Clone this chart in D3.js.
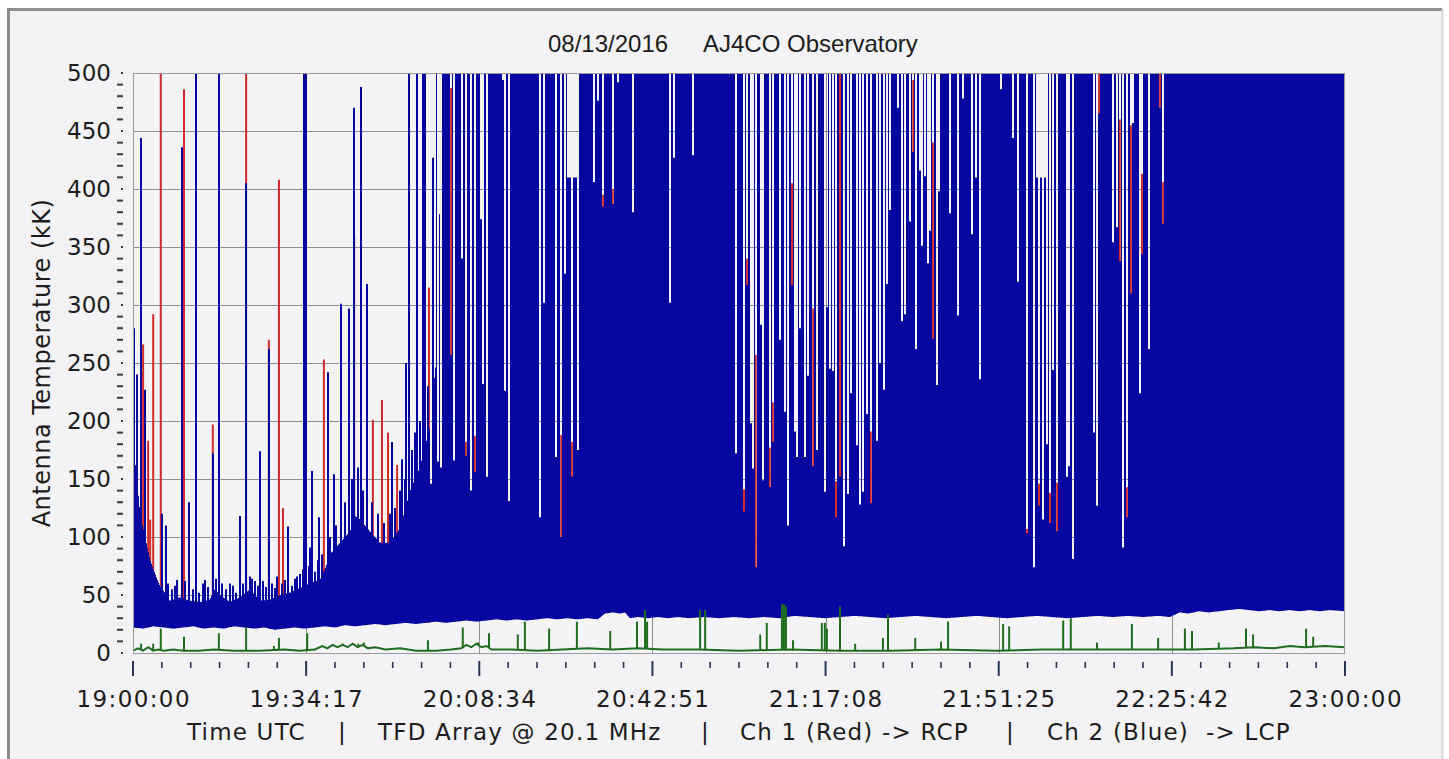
<!DOCTYPE html>
<html><head><meta charset="utf-8">
<script src="https://cdn.jsdelivr.net/npm/d3@7"></script>
<style>body{margin:0;background:#fff}svg{display:block}</style>
</head><body>
<script>
// ---------- DATA (time in minutes after 19:00:00 UTC, values in kK) ----------
const titleDate = "08/13/2016";
const titleSite = "AJ4CO Observatory";
const yAxisTitle = "Antenna Temperature (kK)";
const footerParts = ["Time UTC", "|", "TFD Array @ 20.1 MHz", "|", "Ch 1 (Red) -> RCP", "|", "Ch 2 (Blue)  -> LCP"];
const xTickLabels = ["19:00:00", "19:34:17", "20:08:34", "20:42:51", "21:17:08", "21:51:25", "22:25:42", "23:00:00"];
const yTicks = [0, 50, 100, 150, 200, 250, 300, 350, 400, 450, 500];

// Ch 2 (blue) lower envelope
const blueLowerEnvelope = [[0,22],[2,21],[4,23],[6,22],[8,21],[10,22],[12,23],[14,21],[16,22],[18,21],[20,23],[22,22],[24,21],[26,22],[28,20],[30,21],[32,22],[34,21],[36,22],[38,23],[40,22],[42,24],[44,23],[46,24],[48,25],[50,24],[52,25],[54,26],[56,25],[58,26],[60,27],[62,26],[64,27],[66,28],[68,27],[70,28],[72,29],[74,28],[76,29],[78,28],[80,29],[82,30],[84,29],[86,30],[88,29],[90,30],[92,29],[93.5,34],[95,35],[96.5,34],[97.4,35],[98.4,30],[100,31],[102,30],[104,31],[106,30],[108,31],[110,30],[113,31],[116,30],[119,31],[122,30],[125,31],[128,30],[131,32],[134,31],[137,30],[140,31],[143,32],[146,31],[149,30],[152,31],[155,32],[158,31],[161,30],[164,31],[167,32],[170,31],[173,30],[176,31],[179,32],[182,31],[185,30],[188,31],[191,32],[194,31],[197,32],[200,31],[203,32],[205.3,31],[207.3,35],[209,34],[211,36],[213,35],[215,36],[217,37],[219,38],[221,37],[223,36],[225,37],[227,36],[229,37],[231,36],[233,37],[235,36],[237,37],[240,36]];
// Ch 2 (blue) upper envelope (dense noise top, spikes/dips excluded)
const blueUpperEnvelope = [[0,170],[0.6,160],[1.4,120],[2.4,100],[3.4,80],[4.4,68],[5.3,58],[6.3,52],[7.3,45],[9.3,48],[11.3,45],[13.3,44],[15.2,46],[16.2,55],[17.2,50],[19.2,44],[21.2,48],[23.2,55],[25.1,45],[27.1,46],[29.1,50],[31.1,52],[33.1,56],[35.0,60],[37.0,63],[38.0,72],[39.0,85],[41.0,95],[43.0,105],[44.0,118],[45.0,115],[46.9,105],[48.9,95],[50.9,95],[52.9,108],[54.9,140],[56.8,160],[58.8,195],[60.2,260],[61.2,500],[240,500]];
// Ch 2 (blue) isolated spikes [time, peak]
const blueSpikes = [[0.2,280],[0.8,240],[1.6,444],[2.4,227],[5.7,120],[6.5,110],[6.9,60],[7.7,55],[8.3,58],[8.7,63],[9.7,436],[10.3,62],[11.1,130],[11.9,55],[12.5,500],[13.1,52],[13.9,60],[14.3,63],[14.9,57],[15.8,172],[16.4,64],[17.0,500],[17.6,60],[18.4,55],[19.2,60],[19.8,58],[20.4,52],[21.2,118],[21.8,60],[22.4,405],[23.2,66],[23.6,64],[24.2,62],[24.8,58],[25.1,174],[25.7,62],[26.3,57],[26.9,262],[27.5,60],[28.1,56],[28.5,66],[29.5,60],[30.1,63],[30.7,109],[31.5,58],[32.1,64],[32.5,66],[33.1,68],[33.7,72],[33.9,500],[34.3,500],[34.9,75],[35.0,91],[35.4,157],[36.0,70],[36.6,80],[36.8,117],[37.4,85],[38.6,242],[39.0,100],[39.8,154],[40.2,110],[41.2,301],[42.0,130],[42.8,297],[43.4,150],[43.8,470],[44.6,160],[45.1,488],[45.5,140],[46.3,318],[47.3,130],[48.5,120],[49.7,112],[50.9,120],[51.3,182],[51.9,125],[52.9,140],[53.3,167],[53.9,150],[54.1,250],[54.7,500],[55.3,175],[55.8,190],[56.2,500],[56.8,200],[57.4,500],[57.8,500],[58.4,230],[59.0,260],[59.4,427],[60.2,500]];
// Ch 2 (blue) drop-outs [time, blue top, ch 1 red top (or null)]
const blueDips = [[59.0,146,null],[60.4,165,null],[61.0,160,null],[63.0,257,487],[63.6,166,null],[65.1,340,null],[65.9,170,182],[66.9,140,null],[67.7,156,187],[68.9,374,null],[69.3,232,null],[70.1,152,null],[73.3,494,null],[73.7,226,null],[74.5,131,null],[80.6,117,null],[81.4,302,null],[83.8,169,null],[84.8,100,188],[85.5,327,null],[86.1,410,null],[86.5,410,null],[86.9,152,182],[87.3,410,null],[87.7,410,null],[88.1,175,null],[91.3,406,null],[92.1,476,null],[93.1,385,395],[95.0,387,400],[96.0,492,null],[99.0,380,null],[106.3,302,null],[107.1,427,null],[110.9,429,null],[119.4,172,null],[121.0,122,141],[121.6,317,340],[122.4,198,null],[122.8,159,null],[123.3,74,257],[124.4,283,null],[124.8,149,null],[126.1,143,177],[126.7,182,216],[128.1,270,null],[129.1,208,null],[129.7,110,null],[130.5,317,405],[131.1,191,null],[131.5,169,null],[132.1,280,null],[133.1,169,null],[133.7,239,null],[134.7,161,297],[135.4,175,null],[137.0,139,null],[137.4,298,null],[138.0,245,null],[138.6,243,null],[139.2,117,148],[140.0,152,500],[140.8,92,null],[141.6,137,null],[142.2,224,null],[143.4,179,null],[144.0,128,null],[144.6,139,null],[145.3,206,null],[146.1,129,191],[147.3,183,null],[147.9,250,null],[148.7,227,null],[149.3,318,null],[149.9,382,null],[151.5,470,null],[152.3,286,null],[152.9,292,null],[153.9,372,null],[154.5,432,494],[155.0,262,null],[155.8,416,null],[156.2,351,null],[156.8,411,null],[157.4,336,null],[157.8,364,null],[158.4,271,440],[159.2,231,null],[159.6,398,null],[161.8,379,null],[163.4,291,null],[164.4,478,null],[166.1,361,null],[166.9,410,null],[167.7,236,null],[171.9,486,null],[174.3,444,null],[175.2,320,null],[177.0,103,107],[178.4,74,null],[179.0,410,null],[179.4,127,146],[179.8,410,null],[180.2,115,null],[180.6,410,null],[181.0,180,null],[181.6,112,138],[182.2,244,null],[183.0,105,147],[185.0,152,null],[185.3,161,null],[186.1,81,null],[190.3,190,null],[190.9,127,null],[191.3,465,500],[194.1,354,null],[194.9,367,null],[195.4,338,460],[196.0,91,null],[196.8,117,143],[197.6,310,455],[198.0,457,null],[199.4,224,null],[199.8,344,413],[201.2,262,null],[203.4,470,500],[204.0,370,406]];
// Ch 1 (red) spikes above the blue trace [time, peak]
const redSpikes = [[2.0,266],[3.0,183],[3.4,115],[4.0,292],[5.5,500],[10.1,486],[15.8,197],[22.4,500],[26.9,270],[28.9,408],[29.7,125],[37.8,253],[43.8,358],[47.5,201],[49.3,218],[50.5,190],[52.3,162],[58.6,315]];
// green trace baseline and spikes
const greenBaseline = [[0,2],[1,4],[2,2],[3,5],[4,2],[5,3],[6,2],[8,3],[10,2],[13,2],[16,3],[20,2],[25,2],[30,3],[33,2],[36,3],[37.5,6],[38.5,4],[39.5,7],[40.5,5],[41.5,7],[42.5,5],[43.5,8],[44.5,5],[45.5,7],[46.5,4],[48,5],[50,3],[53,4],[56,2],[60,2],[63,3],[65,4],[66,7],[67,5],[68,8],[69,5],[70,6],[71,3],[75,3],[80,2],[85,3],[90,4],[95,3],[100,4],[105,3],[112,3],[120,2],[130,3],[140,2],[150,2],[160,3],[171,2],[180,3],[190,3],[200,3],[210,3],[218,4],[222,5],[226,4],[229,6],[232,5],[236,6],[240,5]];
const greenSpikes = [[1.6,8],[4.0,8],[5.5,21],[10.1,14],[17.0,17],[22.4,22],[27.9,6],[28.9,13],[34.5,17],[41.6,8],[43.0,7],[44.6,8],[45.7,9],[58.4,11],[65.3,22],[68.3,9],[70.5,17],[76.2,16],[77.6,27],[82.4,21],[87.9,27],[94.5,19],[99.8,27],[101.4,37],[101.8,27],[112.3,37],[113.3,37],[124.2,16],[125.5,26],[128.5,42],[128.9,42],[129.3,40],[130.7,11],[136.4,26],[137.0,26],[137.4,21],[140.0,40],[143.0,8],[148.5,13],[149.5,33],[154.9,13],[160.0,10],[161.4,27],[172.3,25],[173.5,23],[184.2,28],[185.7,30],[190.9,9],[197.8,25],[203.0,13],[208.3,21],[209.7,19],[215.0,9],[220.4,21],[221.8,16],[232.3,21],[233.7,14]];

// ---------- DRAWING ----------
const W = 1449, H = 759;
const m = {l: 133, r: 1345, t: 73, b: 653};
const C = {blue: "#0606a0", red: "#cf2b2b", green: "#1f6c1f", grid: "#8e8e8e", text: "#1c1c1c", bg: "#f4f4f6"};

const svg = d3.select("body").append("svg").attr("width", W).attr("height", H)
  .style("font-family", "'DejaVu Sans', Verdana, sans-serif");
svg.append("rect").attr("width", W).attr("height", H).attr("fill", "#fff");

// frame
svg.append("rect").attr("x", 7).attr("y", 8).attr("width", 1436).attr("height", 760).attr("fill", "#f3f3f5");
svg.append("path").attr("d", "M8.5,768V9.5H1442").attr("fill", "none").attr("stroke", "#8c8c8c").attr("stroke-width", 3);
svg.append("path").attr("d", "M1442.5,9V768").attr("fill", "none").attr("stroke", "#d6d6d8").attr("stroke-width", 2);

const x = d3.scaleLinear().domain([0, 240]).range([m.l, m.r]);
const y = d3.scaleLinear().domain([0, 500]).range([m.b, m.t]).clamp(true);

// plot background
svg.append("rect").attr("x", m.l).attr("y", m.t).attr("width", m.r - m.l).attr("height", m.b - m.t).attr("fill", C.bg);

// grid
const majorStep = 240 / 7;
const g = svg.append("g");
g.selectAll("line.h").data(yTicks.filter(v => v > 0)).join("line")
  .attr("x1", m.l).attr("x2", m.r).attr("y1", d => Math.round(y(d)) + 0.5).attr("y2", d => Math.round(y(d)) + 0.5)
  .attr("stroke", C.grid).attr("stroke-width", 1);
g.selectAll("line.v").data(d3.range(1, 7)).join("line")
  .attr("x1", d => Math.round(x(d * majorStep)) + 0.5).attr("x2", d => Math.round(x(d * majorStep)) + 0.5)
  .attr("y1", m.t).attr("y2", m.b).attr("stroke", C.grid).attr("stroke-width", 1);

// envelopes
const upperEnv = d3.scaleLinear().domain(blueUpperEnvelope.map(d => d[0])).range(blueUpperEnvelope.map(d => d[1]));
const lowerEnv = d3.scaleLinear().domain(blueLowerEnvelope.map(d => d[0])).range(blueLowerEnvelope.map(d => d[1]));
const greenBase = d3.scaleLinear().domain(greenBaseline.map(d => d[0])).range(greenBaseline.map(d => d[1]));

// red channel (drawn beneath blue)
const red = svg.append("g").attr("fill", C.red);
red.selectAll("rect.s").data(redSpikes).join("rect")
  .attr("x", d => x(d[0]) - 1).attr("width", 2)
  .attr("y", d => y(d[1])).attr("height", d => y(0) - y(d[1]) - 30);
red.selectAll("rect.d").data(blueDips.filter(d => d[2] !== null)).join("rect")
  .attr("x", d => x(d[0]) - 1).attr("width", 2)
  .attr("y", d => y(d[2])).attr("height", d => y(d[1]) - y(d[2]) + 4);

// blue channel as per-pixel-column envelope
const cols = d3.range(m.l, m.r).map(px => {
  const c = px + 0.5, t = x.invert(c);
  let hi = upperEnv(t);
  for (const [ts, v] of blueSpikes) if (Math.abs(x(ts) - c) < 1) hi = Math.max(hi, v);
  for (const [td, v] of blueDips) if (Math.abs(x(td) - c) < 1) hi = Math.min(hi, v);
  return {px, lo: lowerEnv(t), hi};
});
cols.push({px: m.r, lo: cols[cols.length - 1].lo, hi: cols[cols.length - 1].hi});
svg.append("path").datum(cols)
  .attr("d", d3.area().x(d => d.px).y0(d => y(d.lo)).y1(d => y(d.hi)).curve(d3.curveStepAfter))
  .attr("fill", C.blue);

// green trace
svg.append("path").datum(greenBaseline)
  .attr("d", d3.line().x(d => x(d[0])).y(d => y(d[1])))
  .attr("fill", "none").attr("stroke", C.green).attr("stroke-width", 2);
svg.append("g").selectAll("line").data(greenSpikes).join("line")
  .attr("x1", d => x(d[0])).attr("x2", d => x(d[0]))
  .attr("y1", d => y(greenBase(d[0]))).attr("y2", d => y(d[1]))
  .attr("stroke", C.green).attr("stroke-width", 2);

// plot border
svg.append("rect").attr("x", m.l + 0.5).attr("y", m.t + 0.5).attr("width", m.r - m.l - 1).attr("height", m.b - m.t)
  .attr("fill", "none").attr("stroke", "#9a9a9a").attr("stroke-width", 1);

// y axis: minor dashes every 10, major dots
const ya = svg.append("g");
ya.selectAll("line").data(d3.range(0, 501, 10).filter(v => v % 50 !== 0)).join("line")
  .attr("x1", 117).attr("x2", 123).attr("y1", d => y(d)).attr("y2", d => y(d))
  .attr("stroke", "#3a3a3a").attr("stroke-width", 2);
ya.selectAll("rect").data(yTicks).join("rect")
  .attr("x", 121).attr("y", d => y(d) - 1).attr("width", 2).attr("height", 2).attr("fill", "#3a3a3a");
ya.selectAll("text").data(yTicks).join("text")
  .attr("x", 111).attr("y", d => y(d)).attr("dy", "0.36em").attr("text-anchor", "end")
  .attr("font-size", 23).attr("fill", C.text).text(d => d);

// x axis ticks
const xa = svg.append("g");
xa.selectAll("line.minor").data(d3.range(0, 43).filter(i => i % 6 !== 0)).join("line")
  .attr("x1", d => x(d * 240 / 42)).attr("x2", d => x(d * 240 / 42))
  .attr("y1", 662).attr("y2", 668).attr("stroke", "#2a3552").attr("stroke-width", 1.6);
xa.selectAll("line.major").data(d3.range(0, 8)).join("line")
  .attr("x1", d => x(d * majorStep)).attr("x2", d => x(d * majorStep))
  .attr("y1", 661).attr("y2", 676).attr("stroke", "#2a3552").attr("stroke-width", 2);
xa.selectAll("text").data(xTickLabels).join("text")
  .attr("x", (d, i) => x(i * majorStep) + 0.7).attr("y", 707).attr("text-anchor", "middle")
  .attr("font-size", 23).attr("letter-spacing", 1.4).attr("fill", C.text).text(d => d);

// titles
svg.append("text").attr("x", 548).attr("y", 52).attr("font-family", "'Liberation Sans', Arial, sans-serif")
  .attr("font-size", 24).attr("fill", C.text).text(titleDate);
svg.append("text").attr("x", 703).attr("y", 52).attr("font-family", "'Liberation Sans', Arial, sans-serif")
  .attr("font-size", 24).attr("fill", C.text).text(titleSite);
svg.append("text").attr("transform", "translate(50,363) rotate(-90)").attr("text-anchor", "middle")
  .attr("font-size", 24).attr("letter-spacing", 0.5).attr("fill", C.text).text(yAxisTitle);

const footerX = [187, 338, 378, 701, 740, 1006, 1047];
svg.append("g").selectAll("text").data(footerParts).join("text")
  .attr("x", (d, i) => footerX[i]).attr("y", 740).attr("font-size", 23).attr("letter-spacing", 1.2).attr("fill", C.text)
  .style("white-space", "pre").text(d => d);
</script>
</body></html>
